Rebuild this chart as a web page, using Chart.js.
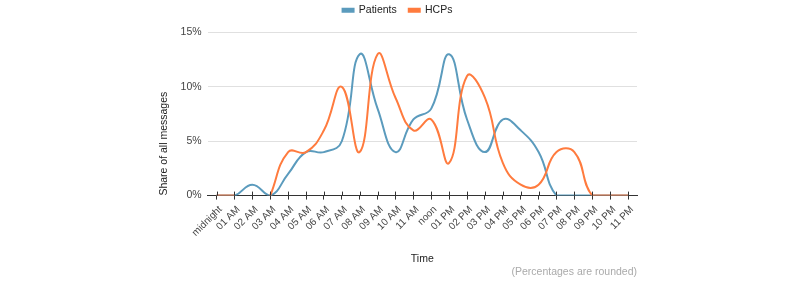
<!DOCTYPE html>
<html>
<head>
<meta charset="utf-8">
<script src="https://cdn.jsdelivr.net/npm/chart.js@4"></script>
<style>
  html, body { margin: 0; padding: 0; background: #fff; }
  #wrap { width: 800px; height: 285px; }
</style>
</head>
<body>
<div id="wrap"><canvas id="timeChart"></canvas></div>
<script>
// Hours of the day (categories)
const hours = ['midnight', '01 AM', '02 AM', '03 AM', '04 AM', '05 AM', '06 AM', '07 AM',
    '08 AM', '09 AM', '10 AM', '11 AM', 'noon', '01 PM', '02 PM', '03 PM', '04 PM',
    '05 PM', '06 PM', '07 PM', '08 PM', '09 PM', '10 PM', '11 PM'];

// Share of all messages, in percent
const patients = [0, 0, 1, 0, 2, 4, 4, 5, 13, 8, 4, 7, 8, 13, 7, 4, 7, 6, 4, 0, 0, 0, 0, 0];
const hcps = [0, 0, null, 0, 4, 4, 6, 10, 4, 13, 9, 6, 7, 3, 11, 9, 3, 1, 1, 4, 4, 0, 0, 0];

const yTicks = [0, 5, 10, 15];

const FONT = 'Arial, "Liberation Sans", sans-serif';

// tick marks that cross the baseline, as in the original
const crossTicks = {
    id: 'crossTicks',
    afterDatasetsDraw(chart) {
        const x = chart.scales.x;
        const y0 = chart.scales.y.getPixelForValue(0);
        const ctx = chart.ctx;
        ctx.save();
        ctx.strokeStyle = '#333';
        ctx.lineWidth = 1;
        ctx.beginPath();
        for (let i = 0; i < hours.length; i++) {
            const px = Math.round(x.getPixelForTick(i)) + 0.5;
            ctx.moveTo(px, y0 - 4);
            ctx.lineTo(px, y0);
        }
        ctx.stroke();
        ctx.restore();
    }
};

// a bit more room between legend and plot
const legendGap = {
    id: 'legendGap',
    beforeInit(chart) {
        const fit = chart.legend.fit;
        chart.legend.fit = function () {
            fit.call(this);
            this.height += 7;
        };
    }
};

new Chart(document.getElementById('timeChart'), {
    type: 'line',
    data: {
        labels: hours,
        datasets: [{
            label: 'Patients',
            data: patients,
            borderColor: '#5b9bbd',
            backgroundColor: '#5b9bbd',
            borderWidth: 2,
            pointRadius: 0,
            tension: 0.45,
            order: 1
        }, {
            label: 'HCPs',
            data: hcps,
            borderColor: '#ff7b3e',
            backgroundColor: '#ff7b3e',
            borderWidth: 2,
            pointRadius: 0,
            tension: 0.45,
            spanGaps: false,
            order: 0
        }]
    },
    options: {
        responsive: true,
        maintainAspectRatio: false,
        animation: false,
        layout: {
            padding: { left: 158, right: 163, top: -7, bottom: 7 }
        },
        plugins: {
            legend: {
                position: 'top',
                labels: {
                    boxWidth: 11,
                    boxHeight: 3,
                    padding: 12,
                    color: '#222',
                    font: { family: FONT, size: 10.5 },
                    sort: (a, b) => a.datasetIndex - b.datasetIndex
                }
            },
            subtitle: {
                display: true,
                position: 'bottom',
                align: 'end',
                text: '(Percentages are rounded)',
                color: '#aaa',
                font: { family: FONT, size: 10.5 },
                padding: { top: 0, bottom: 0 }
            },
            tooltip: { enabled: false }
        },
        scales: {
            x: {
                offset: true,
                grid: {
                    offset: false,
                    drawOnChartArea: false,
                    tickLength: 4,
                    color: '#333'
                },
                border: { display: true, color: '#333', width: 1 },
                ticks: {
                    autoSkip: false,
                    minRotation: 45,
                    maxRotation: 45,
                    labelOffset: 4,
                    color: '#444',
                    padding: 4,
                    font: { family: FONT, size: 10 }
                },
                title: {
                    display: true,
                    text: 'Time',
                    color: '#222',
                    font: { family: FONT, size: 10.5 },
                    padding: { top: 10, bottom: 0 }
                }
            },
            y: {
                min: 0,
                max: 15,
                afterBuildTicks(scale) {
                    scale.ticks = yTicks.map(v => ({ value: v }));
                },
                grid: {
                    color: '#e0e0e0',
                    drawTicks: false
                },
                border: { display: false },
                ticks: {
                    color: '#444',
                    padding: 6,
                    font: { family: FONT, size: 10.5 },
                    callback: v => v + '%'
                },
                title: {
                    display: true,
                    text: 'Share of all messages',
                    align: 'start',
                    color: '#222',
                    font: { family: FONT, size: 10.5 },
                    padding: { top: 0, bottom: 4 }
                }
            }
        }
    },
    plugins: [crossTicks, legendGap]
});
</script>
</body>
</html>
